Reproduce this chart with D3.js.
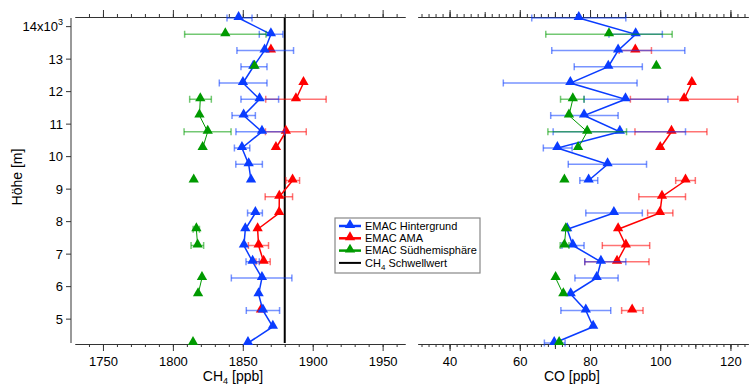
<!DOCTYPE html>
<html>
<head>
<meta charset="utf-8">
<script src="https://cdn.jsdelivr.net/npm/d3@7"></script>
<style>
  body { margin: 0; background: #fff; }
  svg { font-family: "Liberation Sans", Arial, sans-serif; }
</style>
</head>
<body>
<svg id="chart" width="750" height="385"></svg>
<script>
// Höhenstufen [m]
const heights = [4250, 4750, 5250, 5750, 6250, 6750, 7250, 7750, 8250, 8750, 9250,
  9750, 10250, 10750, 11250, 11750, 12250, 12750, 13250, 13750, 14250];

// CH4 [ppb]
const ch4Bg = [1853.7, 1871.5, 1864.4, 1861.3, 1863.7, 1857, 1850.8, 1851.8, 1859, null, 1855.9,
  1854.2, 1849.4, 1863.7, 1850.6, 1862, 1850.1, 1857.5, 1865.6, 1870.1, 1847];
const ch4BgLo = [null, null, 1852.5, null, 1841.8, 1852.3, null, null, 1853.4, null, null,
  1845, 1844, 1845.1, 1842.3, 1848.7, 1833.2, 1848.7, 1845.8, 1861.8, 1838.7];
const ch4BgHi = [null, null, 1876.3, null, 1885.1, 1861.8, null, null, 1864, null, null,
  1864, 1855, 1879.9, 1859, 1875.6, 1867.3, 1867.3, 1886.3, 1878.7, 1856.6];

const ch4Ama = [null, null, 1863, null, null, 1864.9, 1861.3, 1860.6, 1876, 1876.1, 1885.6,
  null, 1873.7, 1880.8, null, 1888, 1893.4, null, 1870.1, null, null];
const ch4AmaLo = [null, null, null, null, null, 1859.4, 1854, null, null, 1866, 1880.8,
  null, null, 1866.2, null, 1866.4, null, null, null, null, null];
const ch4AmaHi = [null, null, null, null, null, 1869.6, 1868.4, null, null, 1885.6, 1890.6,
  null, null, 1895.4, null, 1909.6, null, null, null, null, null];

const ch4Sud = [1814.4, null, null, 1818, 1820.8, null, 1817.7, 1816.8, null, null, 1814.9,
  null, 1821.3, 1824.9, 1819, 1819.6, null, 1858.4, null, 1837.5, null];
const ch4SudLo = [null, null, null, null, null, null, 1813, 1814.5, null, null, null,
  null, null, 1808, null, 1812, null, null, null, 1808.4, null];
const ch4SudHi = [null, null, null, null, null, null, 1822, 1819, null, null, null,
  null, null, 1841.6, null, 1827.5, null, null, null, 1866.6, null];

const ch4Threshold = 1880;

// CO [ppb]
const coBg = [69.8, 80.9, 78.8, 74.5, 81.9, 83.1, 75.1, 73.5, 86.8, null, 79.6,
  85, 70.7, 88.5, 78.3, 90.1, 74.4, 85.2, 88, 93, 76.8];
const coBgLo = [67, null, 71.7, null, 75.7, 78.5, 72, null, 78.8, null, 77.1,
  73.8, 66.7, 69.5, 68.8, 78.3, 55.3, 75.5, 69.1, 85.4, 63.4];
const coBgHi = [72.9, null, 85.9, null, 88, 90.2, 78.3, null, 94.9, null, 82.2,
  96.1, 74.9, 107.2, 88, 102.2, 93.4, 94.9, 107, 100.6, 90.2];

const coAma = [null, null, 92, null, null, 87.7, 90.2, 88, 99.9, 100.5, 107.2,
  null, 100, 103.2, null, 106.8, 109, null, 92.9, null, null];
const coAmaLo = [null, null, 89, null, null, 78.5, 83.5, null, 96.4, 93.9, 104.4,
  null, null, 92.8, null, 91.5, null, null, 88.3, null, null];
const coAmaHi = [null, null, 95.1, null, null, 96.8, 97, null, 103.6, 107.2, 110,
  null, null, 113.3, null, 122.1, null, null, 97.5, null, null];

const coSud = [71.2, null, null, 72.4, 70.2, null, 72.7, 73.1, null, null, 72.7,
  null, 76.6, 79.2, 74, 75.1, null, 98.9, null, 85.4, null];
const coSudLo = [null, null, null, null, null, null, 71.5, null, null, null, null,
  null, null, 68, null, 71.6, null, null, null, 67.4, null];
const coSudHi = [null, null, null, null, null, null, 74, null, null, null, null,
  null, null, 90.4, null, 78.3, null, null, null, 103.4, null];

const seriesNames = ['EMAC Hintergrund', 'EMAC AMA', 'EMAC Südhemisphäre'];
const yTicks = [5000, 6000, 7000, 8000, 9000, 10000, 11000, 12000, 13000, 14000];
const ch4Ticks = [1750, 1800, 1850, 1900, 1950];
const coTicks = [40, 60, 80, 100, 120];

const colors = { bg: '#0a3cff', ama: '#ff0000', sud: '#009a00' };

const svg = d3.select('#chart');

const yTop = 18, yBottom = 343;
const y = d3.scaleLinear().domain([4250, 14250]).range([yBottom, yTop]);
const xL = d3.scaleLinear().domain([1730, 1966]).range([75, 405]);
const xR = d3.scaleLinear().domain([31, 125]).range([418, 748]);

const axisColor = '#333';

// Achsen
function drawXAxes(x, minor, mid, major, label, labelX) {
  const b = svg.append('g').attr('transform', `translate(0,${yBottom + 1})`);
  const t = svg.append('g').attr('transform', `translate(0,${yTop - 1})`);
  [[b, d3.axisBottom], [t, d3.axisTop]].forEach(([g, ax]) => {
    g.append('g').call(ax(x).tickValues(minor).tickSize(3).tickSizeOuter(0).tickFormat(''));
    if (mid) g.append('g').call(ax(x).tickValues(mid).tickSize(5).tickSizeOuter(0).tickFormat(''));
    g.append('g').call(ax(x).tickValues(major).tickSize(7).tickSizeOuter(0)
      .tickFormat(g === b ? d3.format('d') : ''));
    g.selectAll('path, line').attr('stroke', axisColor).attr('stroke-width', 1);
    g.selectAll('text').attr('font-size', 13).attr('fill', '#000').attr('dy', '0.95em');
  });
  svg.append('text').attr('x', labelX).attr('y', 381).attr('text-anchor', 'middle')
    .attr('font-size', 14).html(label);
}

drawXAxes(xL, d3.range(1740, 1961, 10), null, ch4Ticks,
  'CH<tspan font-size="9" dy="3">4</tspan><tspan dy="-3"> [ppb]</tspan>', 233);
drawXAxes(xR, d3.range(32, 125, 2), d3.range(40, 121, 10), coTicks, 'CO [ppb]', 572);

const yAxis = svg.append('g').attr('transform', 'translate(71,0)')
  .call(d3.axisLeft(y).tickValues(yTicks).tickSize(5).tickSizeOuter(0).tickFormat(''));
yAxis.select('path').attr('stroke', '#999').attr('stroke-width', 2)
  .attr('d', `M0,${yTop}V${yBottom}`);
yAxis.selectAll('line').attr('stroke', axisColor);
yAxis.selectAll('.tick').append('text')
  .attr('x', -8).attr('dy', '0.35em').attr('text-anchor', 'end')
  .attr('font-size', 13).attr('fill', '#000')
  .html(d => d === 14000 ? '14x10<tspan font-size="9" dy="-6">3</tspan>' : d / 1000);

svg.append('text').attr('transform', 'translate(22,177) rotate(-90)')
  .attr('text-anchor', 'middle').attr('font-size', 14).text('Höhe [m]');

// Schwellwert
svg.append('line')
  .attr('x1', xL(ch4Threshold)).attr('x2', xL(ch4Threshold))
  .attr('y1', yTop).attr('y2', yBottom)
  .attr('stroke', '#000').attr('stroke-width', 2);

const tri = d3.symbol().type(d3.symbolTriangle).size(46);

function drawSeries(x, vals, lo, hi, color, width) {
  const g = svg.append('g');
  const pts = heights.map((h, i) => ({ h, v: vals[i], lo: lo[i], hi: hi[i] }));
  const err = pts.filter(d => d.v != null && d.lo != null);
  const eg = g.append('g').attr('stroke', color).attr('stroke-opacity', 0.55).attr('stroke-width', 1.5);
  err.forEach(d => {
    eg.append('line').attr('x1', x(d.lo)).attr('x2', x(d.hi)).attr('y1', y(d.h)).attr('y2', y(d.h));
    [d.lo, d.hi].forEach(e => eg.append('line')
      .attr('x1', x(e)).attr('x2', x(e)).attr('y1', y(d.h) - 3.5).attr('y2', y(d.h) + 3.5));
  });
  const line = d3.line().defined(d => d.v != null).x(d => x(d.v)).y(d => y(d.h));
  g.append('path').datum(pts).attr('d', line)
    .attr('fill', 'none').attr('stroke', color).attr('stroke-width', width);
  g.selectAll('path.m').data(pts.filter(d => d.v != null)).enter().append('path')
    .attr('class', 'm').attr('d', tri)
    .attr('transform', d => `translate(${x(d.v)},${y(d.h) - 1})`)
    .attr('fill', color);
}

drawSeries(xL, ch4Ama, ch4AmaLo, ch4AmaHi, colors.ama, 1.5);
drawSeries(xL, ch4Bg, ch4BgLo, ch4BgHi, colors.bg, 1.5);
drawSeries(xL, ch4Sud, ch4SudLo, ch4SudHi, colors.sud, 1);
drawSeries(xR, coAma, coAmaLo, coAmaHi, colors.ama, 1.5);
drawSeries(xR, coBg, coBgLo, coBgHi, colors.bg, 1.5);
drawSeries(xR, coSud, coSudLo, coSudHi, colors.sud, 1);

// Legende
const lg = svg.append('g').attr('transform', 'translate(335,218)');
lg.append('rect').attr('width', 145).attr('height', 55)
  .attr('fill', '#fff').attr('stroke', '#888').attr('stroke-width', 1.2);
const legendItems = [
  { name: seriesNames[0], color: colors.bg, marker: true },
  { name: seriesNames[1], color: colors.ama, marker: true },
  { name: seriesNames[2], color: colors.sud, marker: true },
  { name: null, color: '#000', marker: false }
];
legendItems.forEach((d, i) => {
  const yy = 8 + i * 12.3;
  lg.append('line').attr('x1', 4).attr('x2', 26).attr('y1', yy).attr('y2', yy)
    .attr('stroke', d.color).attr('stroke-width', d.marker ? 2.5 : 2);
  if (d.marker) lg.append('path').attr('d', tri).attr('transform', `translate(15,${yy - 1})`).attr('fill', d.color);
  const t = lg.append('text').attr('x', 30).attr('y', yy).attr('dy', '0.35em').attr('font-size', 11);
  if (d.name) t.text(d.name);
  else t.html('CH<tspan font-size="8" dy="3">4</tspan><tspan dy="-3"> Schwellwert</tspan>');
});
</script>
</body>
</html>
